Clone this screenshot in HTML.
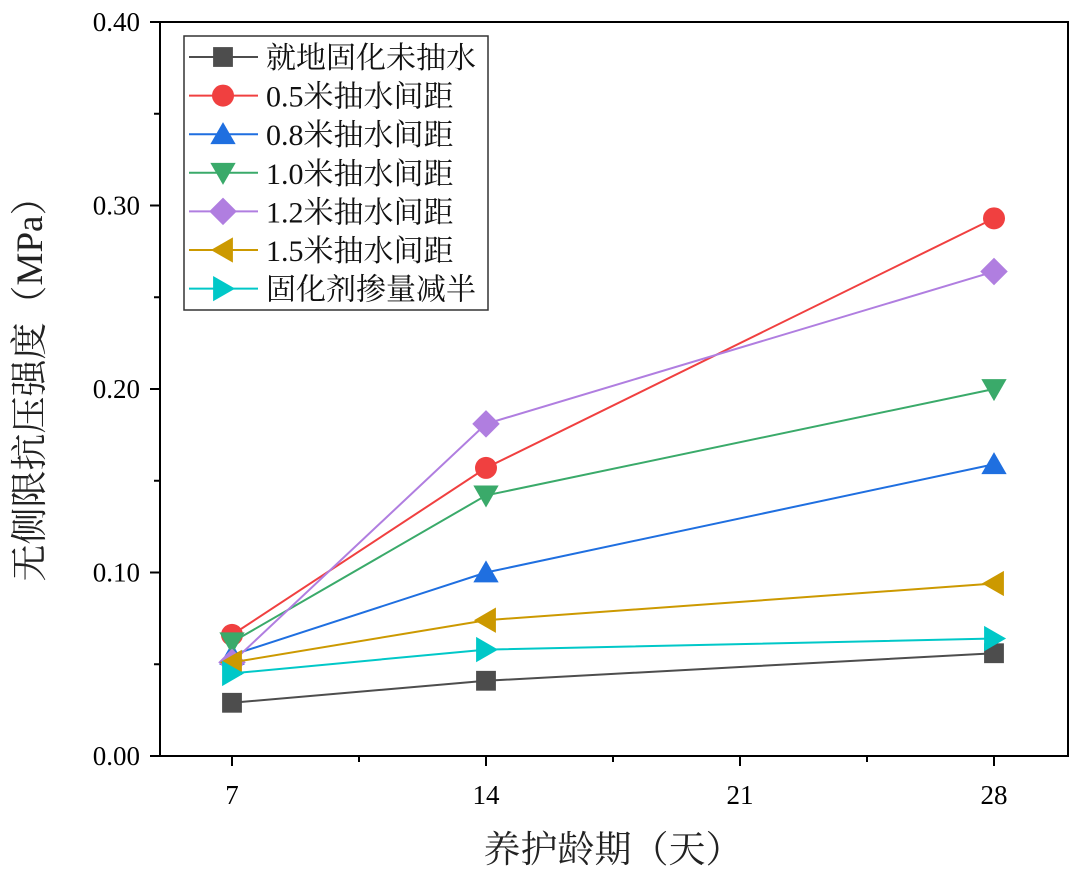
<!DOCTYPE html>
<html><head><meta charset="utf-8"><style>
body{margin:0;background:#fff;}
svg text{font-family:"Liberation Serif","Noto Serif CJK SC",serif;}
</style></head><body>
<svg id="chart" width="1080" height="875" xmlns="http://www.w3.org/2000/svg"></svg>
<script>
const categories=[7,14,28];
const seriesNames=["就地固化未抽水","0.5米抽水间距","0.8米抽水间距","1.0米抽水间距","1.2米抽水间距","1.5米抽水间距","固化剂掺量减半"];
const s0=[0.029,0.041,0.056];
const s1=[0.066,0.157,0.293];
const s2=[0.055,0.100,0.159];
const s3=[0.062,0.142,0.200];
const s4=[0.051,0.181,0.264];
const s5=[0.051,0.074,0.094];
const s6=[0.045,0.058,0.064];
const yTicks=["0.00","0.10","0.20","0.30","0.40"];
const xTicks=[7,14,21,28];
const series=[s0,s1,s2,s3,s4,s5,s6];
const colors=["#4d4d4d","#f04040","#1f6fe0","#3aaa6a","#b07ee0","#cc9900","#00c8c8"];
const markers=["square","circle","up","down","diamond","left","right"];
const svg=document.getElementById('chart');
const NS="http://www.w3.org/2000/svg";
const L=160,R=1068,T=22,B=756;
const x=d=>232+(d-7)*(994-232)/21;
const y=v=>B-v*(B-T)/0.4;
function mk(tag,at,parent){const e=document.createElementNS(NS,tag);for(const k in at)e.setAttribute(k,at[k]);(parent||svg).appendChild(e);return e;}
function marker(type,cx,cy,col,r,parent){
 let e;
 if(type==="square")e=mk('rect',{x:cx-r*0.9,y:cy-r*0.9,width:r*1.8,height:r*1.8,fill:col},parent);
 else if(type==="circle")e=mk('circle',{cx:cx,cy:cy,r:r,fill:col},parent);
 else{let p;
  if(type==="up")p=[[cx,cy-r*1.1],[cx+r*1.15,cy+r*0.9],[cx-r*1.15,cy+r*0.9]];
  if(type==="down")p=[[cx,cy+r*1.1],[cx+r*1.15,cy-r*0.9],[cx-r*1.15,cy-r*0.9]];
  if(type==="diamond")p=[[cx,cy-r*1.25],[cx+r*1.25,cy],[cx,cy+r*1.25],[cx-r*1.25,cy]];
  if(type==="left")p=[[cx-r*1.1,cy],[cx+r*0.9,cy-r*1.15],[cx+r*0.9,cy+r*1.15]];
  if(type==="right")p=[[cx+r*1.1,cy],[cx-r*0.9,cy-r*1.15],[cx-r*0.9,cy+r*1.15]];
  e=mk('polygon',{points:p.map(q=>q.join(',')).join(' '),fill:col},parent);}
 return e;
}
const frame=mk('rect',{x:L,y:T,width:R-L,height:B-T,fill:'none',stroke:'#000','stroke-width':2});

yTicks.forEach((t,i)=>{const v=i*0.1;const yy=y(v);
 mk('line',{x1:L-10,y1:yy,x2:L,y2:yy,stroke:'#000','stroke-width':2});
 if(i<4)mk('line',{x1:L-6,y1:y(v+0.05),x2:L,y2:y(v+0.05),stroke:'#000','stroke-width':2});
 const tx=mk('text',{x:L-20,y:yy+9,'text-anchor':'end','font-size':27});tx.textContent=t;
 });
xTicks.forEach((t,i)=>{const xx=x(t);
 mk('line',{x1:xx,y1:B,x2:xx,y2:B+10,stroke:'#000','stroke-width':2});
 if(i<3)mk('line',{x1:x(t+3.5),y1:B,x2:x(t+3.5),y2:B+6,stroke:'#000','stroke-width':2});
 const tx=mk('text',{x:xx,y:B+48,'text-anchor':'middle','font-size':27});tx.textContent=t;
 });
const xt=mk('text',{x:613,y:862,'text-anchor':'middle','font-size':37,fill:'#222'});xt.textContent="养护龄期（天）";

const yt=mk('text',{x:0,y:0,'text-anchor':'middle','font-size':37,fill:'#222',transform:'translate(42,380) rotate(-90)'});yt.textContent="无侧限抗压强度（MPa）";

series.forEach((s,k)=>{const g=mk('g',{});
 
 mk('polyline',{points:s.map((v,i)=>x(categories[i])+','+y(v)).join(' '),fill:'none',stroke:colors[k],'stroke-width':2},g);
 s.forEach((v,i)=>{const m=marker(markers[k],x(categories[i]),y(v),colors[k],11,g);
  });});
const lg=mk('g',{});
mk('rect',{x:184,y:36,width:304,height:274,fill:'#fff',stroke:'#333','stroke-width':1.5},lg);
seriesNames.forEach((n,k)=>{const yy=57+k*38.6;const g=mk('g',{},lg);
 
 mk('line',{x1:189,y1:yy,x2:258,y2:yy,stroke:colors[k],'stroke-width':2},g);
 marker(markers[k],223,yy,colors[k],11,g);
 const t=mk('text',{x:266,y:yy+11,'font-size':30,fill:'#111'},g);t.textContent=n;});
</script>
</body></html>
